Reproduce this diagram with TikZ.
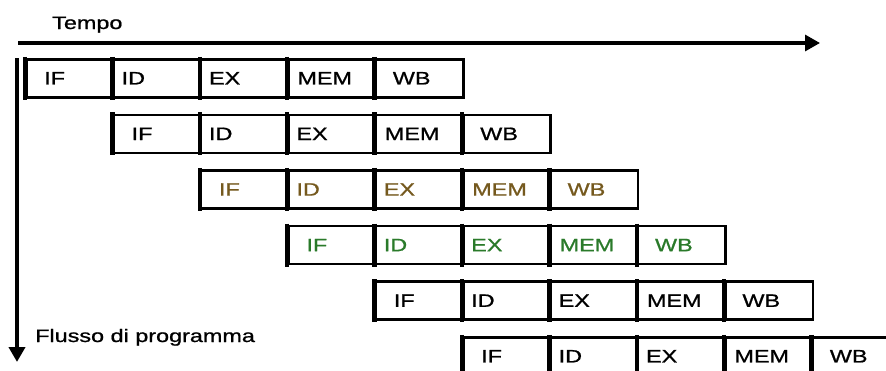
\documentclass[tikz,border=0pt]{standalone}
\usepackage{fontspec}
\newfontfamily\diagfont[FakeStretch=1.3, FakeBold=1]{Liberation Sans}
\usetikzlibrary{arrows.meta}
\definecolor{stagebrown}{HTML}{75591E}
\definecolor{stagegreen}{HTML}{2A7A2A}

\begin{document}
\begin{tikzpicture}[x=1pt, y=-1pt,
    cell/.style={draw, line width=2.5pt, minimum width=87.4pt, minimum height=38pt, inner sep=0pt,
        text width=87.4pt, align=left, anchor=north west, font=\diagfont\fontsize{18}{20}\selectfont},
    sep/.style={line width=4.5pt, shorten <=-1.25pt, shorten >=-1.25pt},
    axis/.style={-{Triangle[length=15pt, width=16pt]}, line width=3.2pt},
    lbl/.style={font=\diagfont\fontsize{18}{20}\selectfont, inner sep=0pt},
]
\useasboundingbox (0,0) rectangle (886,370);
\clip (0,0) rectangle (886,370);

% Time axis
\coordinate (tstart) at (18,43);
\coordinate (tend) at (820,43);
\draw[axis] (tstart) -- (tend);
\node[lbl, anchor=base west] (tempo) at (52,29) {Tempo};

% Program flow axis
\coordinate (fstart) at (17,58);
\coordinate (fend) at (17,362);
\draw[axis, line width=4pt] (fstart) -- (fend);
\node[lbl, anchor=base west] (flusso) at (35,342) {Flusso di programma};

% Pipeline stages, one row per instruction
\foreach \r/\col in {1/black, 2/black, 3/stagebrown, 4/stagegreen, 5/black, 6/black} {
  \foreach \name/\off [count=\c] in {IF/18, ID/8, EX/8, MEM/9, WB/17} {
    \node[cell, text=\col] (r\r-\c) at ({25+87.4*(\r+\c-2)}, {58+55.6*(\r-1)}) {\hspace*{\off pt}\name};
    \draw[sep] (r\r-\c.north west) -- (r\r-\c.south west);
  }
}
\end{tikzpicture}
\end{document}
